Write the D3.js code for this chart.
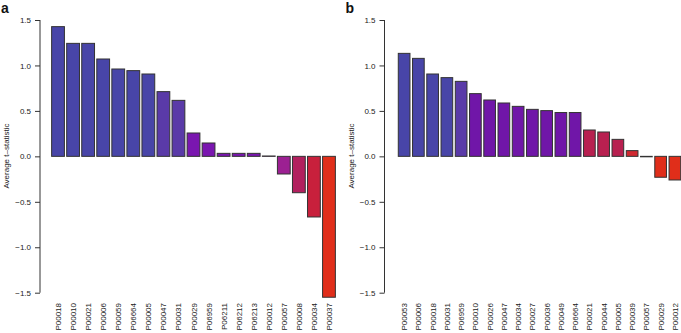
<!DOCTYPE html>
<html><head><meta charset="utf-8">
<script src="https://cdn.jsdelivr.net/npm/d3@7"></script>
<style>body{margin:0;background:#fff}svg{display:block}text{font-family:"Liberation Sans",Arial,sans-serif}</style>
</head><body>
<svg id="c" width="681" height="333"></svg>
<script>
const catsA = ["P00018","P00010","P00021","P00006","P00059","P06664","P00005","P00047","P00031","P00029","P06959","P06211","P06212","P06213","P00012","P00057","P00008","P00034","P00037"];
const valsA = [1.427,1.243,1.243,1.071,0.961,0.943,0.906,0.712,0.616,0.257,0.147,0.033,0.033,0.033,0.004,-0.194,-0.40,-0.667,-1.55];
const catsB = ["P00053","P00006","P00018","P00031","P06959","P00010","P00026","P00047","P00034","P00027","P00036","P00049","P06664","P00021","P00044","P00005","P00039","P00057","P00029","P00012"];
const valsB = [1.133,1.078,0.906,0.866,0.825,0.690,0.620,0.587,0.550,0.517,0.503,0.482,0.482,0.290,0.268,0.187,0.063,-0.005,-0.23,-0.26];
const yTicks = [-1.5,-1.0,-0.5,0.0,0.5,1.0,1.5];
const colorsA = ["#4845a8","#4845a8","#4845a8","#4845a8","#4845a8","#4845a8","#4845a8","#5a3aa8","#5a3aa8","#7a16b0","#7a16b0","#7a16b0","#7a16b0","#7a16b0","#8a1aa0","#9c2092","#b2205e","#c8203c","#e02e1a"];
const colorsB = ["#4845a8","#4845a8","#4845a8","#4845a8","#5a3aa8","#7016a8","#7016a8","#7016a8","#7016a8","#7016a8","#7016a8","#7016a8","#7016a8","#b82050","#b82050","#b82050","#d02830","#d83024","#e02e1a","#e02e1a"];

const svg = d3.select("#c");
const y = d3.scaleLinear().domain([-1.5,1.5]).range([292.7,20]);

function panel(cats, vals, colors, axisX, bandRange, pad, label){
  const g = svg.append("g");
  const x = d3.scaleBand().domain(cats).range(bandRange).paddingInner(pad).paddingOuter(pad/2);
  // bars
  g.selectAll("rect.bar").data(vals).enter().append("rect")
    .attr("x",(d,i)=>x(cats[i]))
    .attr("width",x.bandwidth())
    .attr("y",d=>y(Math.max(0,d)))
    .attr("height",d=>Math.abs(y(d)-y(0)))
    .attr("fill",(d,i)=>colors[i])
    .attr("stroke","#333").attr("stroke-width",1);
  // axis
  const ax = g.append("g").attr("transform",`translate(${axisX},0)`)
    .call(d3.axisLeft(y).tickValues(yTicks).tickFormat(d3.format(".1f")).tickSize(5).tickPadding(4).tickSizeOuter(0));
  ax.select(".domain").attr("stroke","#333").attr("d",`M0,${y(-1.5)}V${y(1.5)}`);
  ax.selectAll(".tick line").attr("stroke","#333");
  ax.selectAll(".tick text").attr("font-size",8).attr("fill","#222").attr("font-family","Liberation Sans, Arial, sans-serif")
    .text(d=>d3.format(".1f")(d).replace("-","\u2212"));
  // x labels
  g.selectAll("text.xl").data(cats).enter().append("text")
    .attr("transform",d=>`translate(${x(d)+x.bandwidth()/2+3},303) rotate(-90)`)
    .attr("text-anchor","end").attr("font-size",8).attr("fill","#222").text(d=>d);
  // y title
  g.append("text").attr("transform",`translate(${axisX-31},156) rotate(-90)`)
    .attr("text-anchor","middle").attr("font-size",8).attr("fill","#222").text("Average t\u2013statistic");
  // panel label
  g.append("text").attr("x",axisX-39).attr("y",13).attr("font-size",14).attr("font-weight","bold").attr("fill","#111").text(label);
}
panel(catsA, valsA, colorsA, 40, [50.5,336.5], 0.15, "a");
panel(catsB, valsB, colorsB, 384.5, [397,682], 0.18, "b");
</script>
</body></html>
